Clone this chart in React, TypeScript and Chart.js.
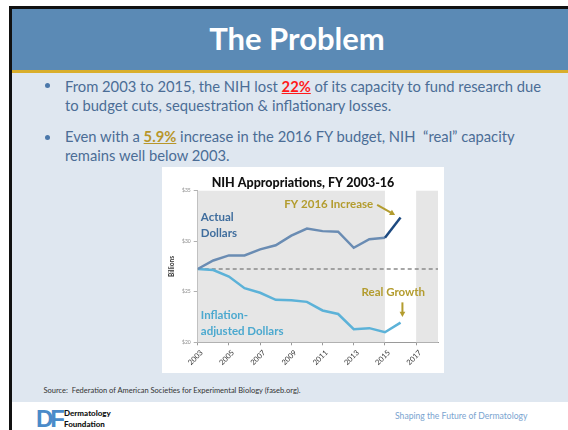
import React, { useEffect, useRef } from "react";
import { Chart, registerables } from "chart.js";

Chart.register(...registerables);
Chart.defaults.font.family = "Lato, 'Open Sans', sans-serif";

// ---- data ----
const years = [2003, 2004, 2005, 2006, 2007, 2008, 2009, 2010, 2011, 2012, 2013, 2014, 2015, 2016];
const actualDollars = [27.25, 28.1, 28.6, 28.6, 29.2, 29.6, 30.55, 31.25, 31.0, 30.95, 29.35, 30.2, 30.35, 32.35];
const inflationAdjusted = [27.25, 27.15, 26.5, 25.35, 24.9, 24.2, 24.15, 24.0, 23.15, 22.8, 21.3, 21.4, 21.0, 21.95];
const xTickYears = [2003, 2005, 2007, 2009, 2011, 2013, 2015, 2017];
const yTickValues = [20, 25, 30, 35];
const xRange = [2003, 2018.4];
const yRange = [20, 35];
const shadedRanges = [
  [2003, 2015],
  [2017, 2018.4],
];
const baselineValue = actualDollars[0];
const chartTitle = "NIH Appropriations, FY 2003-16";

const OLIVE = "#b39c2e";

function drawArrow(ctx: CanvasRenderingContext2D, x1: number, y1: number, x2: number, y2: number) {
  const ang = Math.atan2(y2 - y1, x2 - x1);
  const head = 6;
  ctx.save();
  ctx.strokeStyle = OLIVE;
  ctx.fillStyle = OLIVE;
  ctx.lineWidth = 2;
  ctx.beginPath();
  ctx.moveTo(x1, y1);
  ctx.lineTo(x2 - Math.cos(ang) * head * 0.8, y2 - Math.sin(ang) * head * 0.8);
  ctx.stroke();
  ctx.beginPath();
  ctx.moveTo(x2, y2);
  ctx.lineTo(x2 - head * Math.cos(ang - 0.5), y2 - head * Math.sin(ang - 0.5));
  ctx.lineTo(x2 - head * Math.cos(ang + 0.5), y2 - head * Math.sin(ang + 0.5));
  ctx.closePath();
  ctx.fill();
  ctx.restore();
}

const slidePlugin = {
  id: "slidePlugin",
  beforeDatasetsDraw(chart: any) {
    const { ctx, chartArea, scales } = chart;
    const x = scales.x;
    const y = scales.y;
    ctx.save();
    ctx.fillStyle = "#e6e6e6";
    for (const [a, b] of shadedRanges) {
      const x1 = x.getPixelForValue(a);
      const x2 = x.getPixelForValue(b);
      ctx.fillRect(x1, chartArea.top, x2 - x1, chartArea.bottom - chartArea.top);
    }
    // baseline (2003 level)
    const yb = y.getPixelForValue(baselineValue);
    ctx.strokeStyle = "#8a8a8a";
    ctx.lineWidth = 1.5;
    ctx.setLineDash([4, 3]);
    ctx.beginPath();
    ctx.moveTo(chartArea.left, yb);
    ctx.lineTo(chartArea.right, yb);
    ctx.stroke();
    ctx.restore();
  },
  afterDatasetsDraw(chart: any) {
    const { ctx, scales } = chart;
    const X = (v: number) => scales.x.getPixelForValue(v);
    const Y = (v: number) => scales.y.getPixelForValue(v);
    ctx.save();
    ctx.textBaseline = "middle";
    ctx.textAlign = "left";
    ctx.font = "bold 11.5px Lato";
    ctx.fillStyle = "#3f6d9d";
    ctx.fillText("Actual", X(2003.2), Y(32.4));
    ctx.fillText("Dollars", X(2003.2), Y(30.8));
    ctx.fillStyle = "#4ca9cf";
    ctx.fillText("Inflation-", X(2003.2), Y(22.65));
    ctx.fillText("adjusted Dollars", X(2003.2), Y(21.1));
    ctx.fillStyle = OLIVE;
    ctx.fillText("FY 2016 Increase", X(2008.55), Y(33.7));
    ctx.fillText("Real Growth", X(2013.5), Y(24.9));
    drawArrow(ctx, X(2014.5), Y(33.6), X(2015.65), Y(32.6));
    drawArrow(ctx, X(2016.12), Y(23.95), X(2016.12), Y(22.5));
    // chart title
    ctx.textAlign = "center";
    ctx.fillStyle = "#111";
    ctx.font = "900 12.5px Lato";
    ctx.fillText(chartTitle, chart.width / 2, 16);
    ctx.restore();
  },
};

function NihChart() {
  const ref = useRef<HTMLCanvasElement | null>(null);
  useEffect(() => {
    if (!ref.current) return;
    const chart = new Chart(ref.current, {
      type: "line",
      data: {
        datasets: [
          {
            data: years.map((x, i) => ({ x, y: actualDollars[i] })),
            borderColor: "#6a8cb3",
            borderWidth: 2.5,
            pointRadius: 0,
            tension: 0,
            segment: {
              borderColor: (c: any) => (c.p1DataIndex === years.length - 1 ? "#1d4a80" : undefined),
            },
          },
          {
            data: years.map((x, i) => ({ x, y: inflationAdjusted[i] })),
            borderColor: "#5cb2d8",
            borderWidth: 2.5,
            pointRadius: 0,
            tension: 0,
          },
        ],
      },
      options: {
        animation: false,
        responsive: false,
        maintainAspectRatio: false,
        layout: { padding: { top: 23.7, right: 6, left: 0, bottom: 0 } },
        plugins: {
          legend: { display: false },
          tooltip: { enabled: false },
          title: { display: false },
        },
        scales: {
          x: {
            type: "linear",
            min: xRange[0],
            max: xRange[1],
            afterBuildTicks: (s: any) => {
              s.ticks = xTickYears.map((v) => ({ value: v }));
            },
            afterFit: (s: any) => {
              s.height = 30.7;
            },
            ticks: {
              autoSkip: false,
              minRotation: 45,
              maxRotation: 45,
              padding: 3,
              labelOffset: 4,
              color: "#333",
              font: { size: 7.5 },
              callback: (v: any) => String(v),
            },
            grid: { drawOnChartArea: false, drawTicks: true, tickLength: 3, color: "#9a9a9a" },
            border: { color: "#9a9a9a", width: 1 },
          },
          y: {
            min: yRange[0],
            max: yRange[1],
            afterBuildTicks: (s: any) => {
              s.ticks = yTickValues.map((v) => ({ value: v }));
            },
            afterFit: (s: any) => {
              s.width = 35.7;
            },
            ticks: {
              padding: 3,
              color: "#8a8a8a",
              font: { size: 5 },
              callback: (v: any) => "$" + v,
            },
            grid: { drawOnChartArea: false, drawTicks: true, tickLength: 4, color: "#b0b0b0" },
            border: { color: "#b0b0b0", width: 1 },
            title: {
              display: true,
              text: "Billions",
              color: "#333",
              font: { size: 6.5, weight: "bold" },
              padding: { top: 6, bottom: 0 },
            },
          },
        },
      },
      plugins: [slidePlugin],
    } as any);
    return () => chart.destroy();
  }, []);
  return (
    <canvas
      ref={ref}
      width={282}
      height={206}
      style={{ position: "absolute", left: 162, top: 167, width: 282, height: 206 }}
    />
  );
}

const textBlue = "#4b6d96";

function Line({ top, children }: { top: number; children: React.ReactNode }) {
  return (
    <div
      style={{
        position: "absolute",
        left: 65,
        top,
        fontSize: 14.75,
        lineHeight: "18px",
        color: textBlue,
        whiteSpace: "pre",
      }}
    >
      {children}
    </div>
  );
}

function Dot({ top }: { top: number }) {
  return (
    <div
      style={{
        position: "absolute",
        left: 44.5,
        top: top - 2.5,
        width: 5,
        height: 5,
        borderRadius: 3,
        background: "#4b78aa",
      }}
    />
  );
}

export default function App() {
  return (
    <div
      style={{
        position: "fixed",
        left: 0,
        top: 0,
        width: 568,
        height: 430,
        background: "#fff",
        overflow: "hidden",
        fontFamily: "Lato, 'Open Sans', sans-serif",
      }}
    >
      <div style={{ position: "absolute", left: 9, top: 6, right: 0, height: 3, background: "#111" }} />
      <div style={{ position: "absolute", left: 9, top: 6, width: 3, bottom: 0, background: "#111" }} />
      <div style={{ position: "absolute", left: 12, top: 9, width: 556, height: 61, background: "#5b8ab5" }} />
      <div style={{ position: "absolute", left: 12, top: 70, width: 556, height: 3, background: "#d9ae2c" }} />
      <div style={{ position: "absolute", left: 12, top: 73, width: 556, height: 329, background: "#dfe7f0" }} />
      <div
        style={{
          position: "absolute",
          left: 19,
          top: 20,
          width: 556,
          textAlign: "center",
          color: "#fff",
          fontWeight: 700,
          fontSize: 31,
          lineHeight: "37px",
        }}
      >
        The Problem
      </div>

      <Dot top={85.5} />
      <Line top={76.8}>
        {"From 2003 to 2015, the NIH lost "}
        <span style={{ color: "#ff1a1a", fontWeight: 700, textDecoration: "underline" }}>22%</span>
        {" of its capacity to fund research due"}
      </Line>
      <Line top={95.8}>to budget cuts, sequestration &amp; inflationary losses.</Line>
      <Dot top={137} />
      <Line top={127.3}>
        {"Even with a "}
        <span style={{ color: "#b8962a", fontWeight: 700, textDecoration: "underline" }}>5.9%</span>
        {" increase in the 2016 FY budget, NIH  “real” capacity"}
      </Line>
      <Line top={145.6}>remains well below 2003.</Line>

      <div style={{ position: "absolute", left: 162, top: 167, width: 282, height: 206, background: "#fff" }} />
      <NihChart />

      <div
        style={{
          position: "absolute",
          left: 43.5,
          top: 385.5,
          fontSize: 7.5,
          lineHeight: "9px",
          color: "#333",
          whiteSpace: "pre",
        }}
      >
        {"Source:  Federation of American Societies for Experimental Biology (faseb.org)."}
      </div>

      <div
        style={{
          position: "absolute",
          left: 36,
          top: 405,
          fontFamily: "'Liberation Sans', Arial, sans-serif",
          fontWeight: 900,
          fontSize: 24,
          lineHeight: "28px",
          letterSpacing: -3,
          color: "#4a8bc9",
        }}
      >
        DF
      </div>
      <div
        style={{
          position: "absolute",
          left: 64,
          top: 408,
          fontWeight: 900,
          fontSize: 8,
          lineHeight: "11px",
          color: "#111",
        }}
      >
        Dermatology
        <br />
        Foundation
      </div>
      <div
        style={{
          position: "absolute",
          left: 395,
          top: 410.5,
          fontSize: 8.6,
          lineHeight: "10px",
          color: "#7aa4d0",
          whiteSpace: "nowrap",
        }}
      >
        Shaping the Future of Dermatology
      </div>
    </div>
  );
}
